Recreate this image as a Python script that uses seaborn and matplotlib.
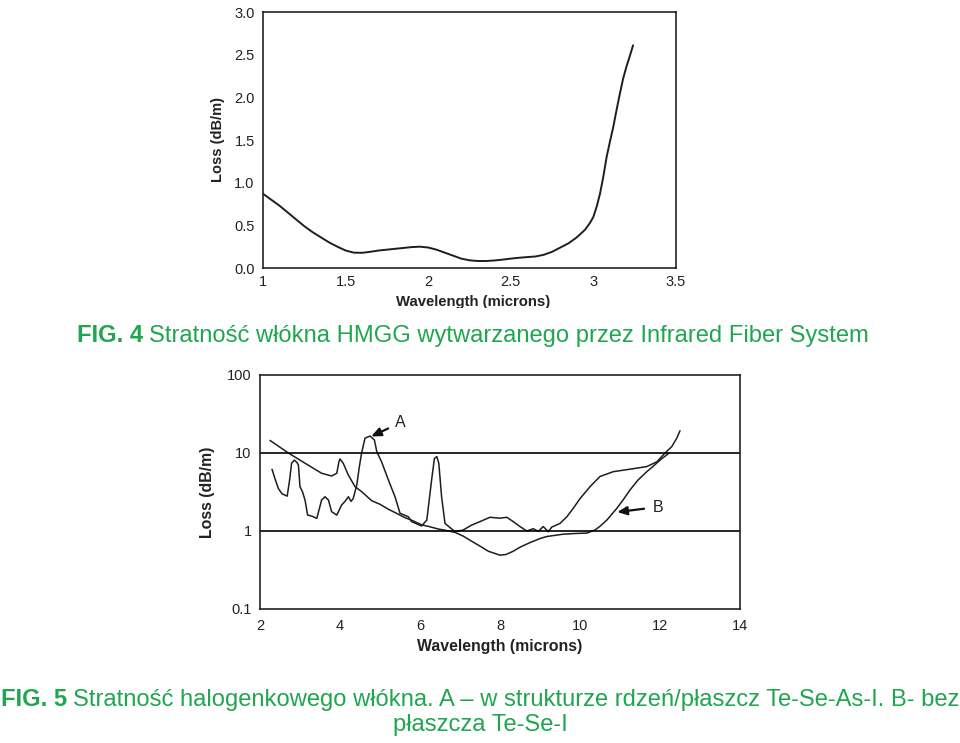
import numpy as np
import pandas as pd
import seaborn as sns
import matplotlib
matplotlib.use("Agg")
import matplotlib.pyplot as plt
from matplotlib import font_manager
from matplotlib.transforms import Bbox

# ---------------- data ----------------
# FIG. 4 : HMGG fibre loss
fig4_wl = [1.00, 1.05, 1.10, 1.15, 1.20, 1.25, 1.30, 1.35, 1.40, 1.45, 1.50, 1.55,
           1.60, 1.65, 1.70, 1.75, 1.80, 1.85, 1.90, 1.95, 2.00, 2.05, 2.10, 2.15,
           2.20, 2.25, 2.30, 2.35, 2.40, 2.45, 2.50, 2.55, 2.60, 2.65, 2.70, 2.75,
           2.80, 2.85, 2.90, 2.95, 2.98, 3.00, 3.02, 3.04, 3.06, 3.08, 3.10, 3.12,
           3.14, 3.16, 3.18, 3.20, 3.22, 3.24]
fig4_loss = [0.87, 0.80, 0.73, 0.65, 0.57, 0.49, 0.42, 0.36, 0.30, 0.25, 0.205, 0.18,
             0.178, 0.19, 0.205, 0.215, 0.225, 0.235, 0.245, 0.25, 0.24, 0.215, 0.18, 0.145,
             0.11, 0.09, 0.082, 0.082, 0.088, 0.098, 0.11, 0.12, 0.128, 0.135, 0.155, 0.19,
             0.24, 0.29, 0.36, 0.45, 0.53, 0.60, 0.72, 0.87, 1.07, 1.30, 1.48, 1.65,
             1.85, 2.04, 2.22, 2.36, 2.48, 2.61]

# FIG. 5 : curve A (core/clad Te-Se-As-I)
a_wl = [2.30, 2.38, 2.46, 2.55, 2.68, 2.74, 2.79, 2.86, 2.92, 2.96, 3.00, 3.06,
        3.125, 3.19, 3.30, 3.42, 3.48, 3.54, 3.625, 3.71, 3.79, 3.92, 4.04, 4.125,
        4.21, 4.275, 4.33, 4.42, 4.48, 4.54, 4.625, 4.75, 4.86, 4.92, 5.04, 5.21,
        5.375, 5.50, 5.71, 5.79, 6.04, 6.17, 6.29, 6.36, 6.42, 6.47, 6.54, 6.625,
        6.875, 7.08, 7.29, 7.50, 7.75, 8.00, 8.17, 8.33, 8.50, 8.67, 8.83, 8.96,
        9.08, 9.21, 9.29, 9.50, 9.67, 9.83, 10.00, 10.25, 10.50, 10.83, 11.25, 11.67,
        11.92, 12.125, 12.29, 12.42, 12.50]
a_loss = [6.2, 4.6, 3.5, 3.0, 2.8, 4.5, 7.4, 8.1, 7.6, 7.0, 3.7, 3.2,
          2.5, 1.6, 1.55, 1.45, 1.9, 2.5, 2.75, 2.5, 1.77, 1.6, 2.15, 2.4,
          2.75, 2.4, 2.6, 3.9, 6.5, 10.0, 15.5, 16.5, 14.7, 10.4, 7.7, 4.5,
          2.75, 1.69, 1.52, 1.32, 1.16, 1.38, 4.5, 8.5, 9.0, 7.4, 2.75, 1.25,
          0.98, 1.03, 1.19, 1.32, 1.5, 1.46, 1.5, 1.32, 1.14, 1.0, 1.07, 0.99,
          1.14, 0.98, 1.12, 1.25, 1.52, 1.95, 2.6, 3.7, 5.0, 5.76, 6.2, 6.7,
          7.7, 10.0, 12.0, 15.5, 19.3]

# FIG. 5 : curve B (unclad Te-Se-I)
b_wl = [2.25, 2.71, 3.125, 3.54, 3.79, 3.92, 3.97, 4.00, 4.08, 4.21, 4.375, 4.54,
        4.79, 5.00, 5.21, 5.40, 5.625, 5.80, 6.04, 6.20, 6.46, 6.60, 6.875, 7.08,
        7.29, 7.50, 7.71, 8.00, 8.15, 8.33, 8.50, 8.75, 9.00, 9.17, 9.58, 9.90,
        10.17, 10.375, 10.50, 10.67, 10.92, 11.10, 11.25, 11.45, 11.67, 11.85, 12.00, 12.23]
b_loss = [14.5, 10.0, 7.4, 5.5, 5.07, 5.5, 7.6, 8.4, 7.4, 5.2, 3.7, 3.2,
          2.45, 2.2, 1.9, 1.7, 1.48, 1.37, 1.2, 1.15, 1.06, 1.03, 0.96, 0.86,
          0.74, 0.64, 0.55, 0.49, 0.50, 0.55, 0.62, 0.71, 0.80, 0.85, 0.91, 0.93,
          0.94, 1.03, 1.15, 1.38, 1.95, 2.6, 3.36, 4.5, 5.76, 6.9, 8.1, 10.0]

fig4_xticks = [1, 1.5, 2, 2.5, 3, 3.5]
fig4_xticklabels = ["1", "1.5", "2", "2.5", "3", "3.5"]
fig4_yticks = [0.0, 0.5, 1.0, 1.5, 2.0, 2.5, 3.0]
fig4_yticklabels = ["0.0", "0.5", "1.0", "1.5", "2.0", "2.5", "3.0"]
fig5_xticks = [2, 4, 6, 8, 10, 12, 14]
fig5_yticks = [0.1, 1, 10, 100]
fig5_yticklabels = ["0.1", "1", "10", "100"]

caption4_bold = "FIG. 4"
caption4_rest = "Stratność włókna HMGG wytwarzanego przez Infrared Fiber System"
caption5_bold = "FIG. 5"
caption5_rest = "Stratność halogenkowego włókna. A – w strukturze rdzeń/płaszcz Te-Se-As-I. B- bez"
caption5_line2 = "płaszcza Te-Se-I"
xlabel = "Wavelength (microns)"
ylabel = "Loss (dB/m)"

# ---------------- style ----------------
sns.set_style("white")
plt.rcParams["font.family"] = ["Liberation Sans", "DejaVu Sans"]

GREEN = "#1fa64f"
LINE = "#1e1e1e"
W, H = 960, 743
fig = plt.figure(figsize=(W / 100, H / 100), dpi=100)

# choose the installed caption font whose width best matches the reference
# (Arial-Narrow-like captions: ~791 px wide at ~16 pt)
names = {f.name for f in font_manager.fontManager.ttflist}
candidates = ["Liberation Sans Narrow", "Arial Narrow", "Roboto Condensed",
              "Archivo Narrow", "Asap Condensed", "Barlow Semi Condensed",
              "Fira Sans Condensed", "IBM Plex Sans Condensed", "Encode Sans Condensed",
              "Open Sans Condensed", "PT Sans Narrow", "Roboto", "Liberation Sans"]
fig.canvas.draw()
rend = fig.canvas.get_renderer()
best, best_err = "Liberation Sans", None
for cand in candidates:
    if cand not in names:
        continue
    t1 = fig.text(0, 0, caption4_bold + " ", fontsize=16, fontweight="bold", family=[cand])
    t2 = fig.text(0, 0, caption4_rest, fontsize=16, family=[cand])
    wsum = t1.get_window_extent(rend).width + t2.get_window_extent(rend).width
    t1.remove()
    t2.remove()
    err = abs(wsum - 791)
    if best_err is None or err < best_err:
        best, best_err = cand, err
cap_family = [best, "Liberation Sans", "DejaVu Sans"]


def fpos(l, t, r, b):
    return [l / W, 1 - b / H, (r - l) / W, (b - t) / H]


# ---------------- FIG. 4 ----------------
ax1 = fig.add_axes(fpos(263, 12, 676, 268))
df4 = pd.DataFrame({"wl": fig4_wl, "loss": fig4_loss})
sns.lineplot(data=df4, x="wl", y="loss", ax=ax1, color=LINE, lw=1.4,
             sort=False, estimator=None)
ax1.set_xlim(1, 3.5)
ax1.set_ylim(0, 3.0)
ax1.set_xticks(fig4_xticks)
ax1.set_xticklabels(fig4_xticklabels)
ax1.set_yticks(fig4_yticks)
ax1.set_yticklabels(fig4_yticklabels)
ax1.tick_params(axis="both", length=0, labelsize=10.5, colors="#222222")
ax1.tick_params(axis="y", pad=6)
ax1.tick_params(axis="x", pad=5)
for s in ax1.spines.values():
    s.set_visible(True)
    s.set_color("#222222")
    s.set_linewidth(1.2)
ax1.set_xlabel(xlabel, fontsize=10.7, fontweight="bold", color="#222222")
ax1.set_ylabel(ylabel, fontsize=10.5, fontweight="bold", color="#222222")
ax1.xaxis.set_label_coords(0.508, -0.105)
ax1.yaxis.set_label_coords(-0.092, 0.5)
# bottom of the label is cut off in the reference
ax1.xaxis.label.set_clip_on(True)
ax1.xaxis.label.set_clip_box(Bbox.from_extents(0, H - 308, W, H))

# ---------------- FIG. 5 ----------------
ax2 = fig.add_axes(fpos(260, 375, 740, 609))
dfa = pd.DataFrame({"wl": a_wl, "loss": a_loss})
dfb = pd.DataFrame({"wl": b_wl, "loss": b_loss})
ax2.set_yscale("log")
sns.lineplot(data=dfa, x="wl", y="loss", ax=ax2, color=LINE, lw=1.1,
             sort=False, estimator=None)
sns.lineplot(data=dfb, x="wl", y="loss", ax=ax2, color=LINE, lw=1.1,
             sort=False, estimator=None)
ax2.axhline(10, color="black", lw=1.2)
ax2.axhline(1, color="black", lw=1.2)
ax2.set_xlim(2, 14)
ax2.set_ylim(0.1, 100)
ax2.set_xticks(fig5_xticks)
ax2.set_xticklabels([str(v) for v in fig5_xticks])
ax2.set_yticks(fig5_yticks)
ax2.set_yticklabels(fig5_yticklabels)
ax2.yaxis.set_minor_locator(matplotlib.ticker.NullLocator())
ax2.tick_params(axis="both", which="both", length=0, labelsize=10.5, colors="#222222")
ax2.tick_params(axis="y", pad=6)
ax2.tick_params(axis="x", pad=7)
for s in ax2.spines.values():
    s.set_visible(True)
    s.set_color("#222222")
    s.set_linewidth(1.2)
ax2.set_xlabel(xlabel, fontsize=11.4, fontweight="bold", color="#222222")
ax2.set_ylabel(ylabel, fontsize=11.4, fontweight="bold", color="#222222")
ax2.xaxis.set_label_coords(0.5, -0.128)
ax2.yaxis.set_label_coords(-0.094, 0.5)

ax2.annotate("A", xy=(4.78, 16.3), xytext=(5.38, 24.5), fontsize=11.5,
             color="#222222", ha="left", va="center",
             arrowprops=dict(arrowstyle="-|>,head_length=0.5,head_width=0.22",
                             color="#111111", lw=1.6, shrinkA=3, shrinkB=0))
ax2.annotate("B", xy=(10.93, 1.75), xytext=(11.82, 2.03), fontsize=11.5,
             color="#222222", ha="left", va="center",
             arrowprops=dict(arrowstyle="-|>,head_length=0.5,head_width=0.22",
                             color="#111111", lw=1.6, shrinkA=4, shrinkB=0))

# ---------------- captions ----------------
def caption(x_left, y_base_px, bold, rest, target_width, size=16.0):
    yb = 1 - y_base_px / H
    tb = fig.text(x_left / W, yb, bold, fontsize=size, fontweight="bold",
                  color=GREEN, family=cap_family, va="baseline", ha="left")
    tr = ax1.annotate(rest, xy=(1, 0), xycoords=tb, xytext=(4, 0),
                      textcoords="offset points", fontsize=size, color=GREEN,
                      family=cap_family, va="bottom", ha="left",
                      annotation_clip=False)
    for _ in range(3):
        fig.canvas.draw()
        r = fig.canvas.get_renderer()
        w = tr.get_window_extent(r).x1 - tb.get_window_extent(r).x0
        size = min(size * target_width / w, 17.5)
        tb.set_fontsize(size)
        tr.set_fontsize(size)
    return size


caption(77, 342, caption4_bold, caption4_rest, 868 - 77)
s5 = caption(1, 706, caption5_bold, caption5_rest, 959 - 1)
fig.text(480 / W, 1 - 731 / H, caption5_line2, fontsize=s5, color=GREEN,
         family=cap_family, va="baseline", ha="center")

fig.savefig("out.png", dpi=100, facecolor="white")
